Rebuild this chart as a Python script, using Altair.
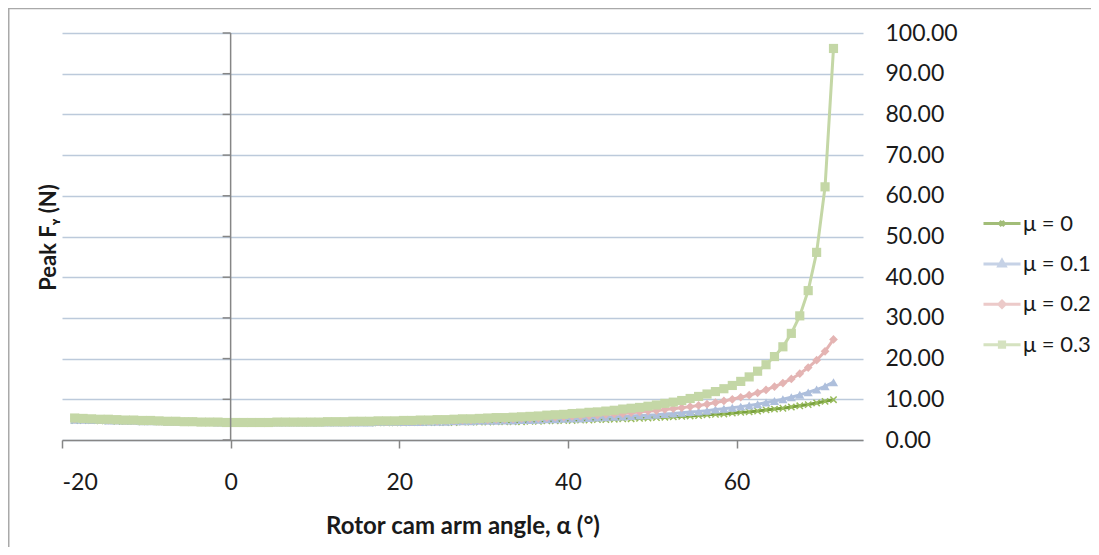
import pandas as pd
import altair as alt

# Rotor cam arm angle (degrees)
alpha = [-18.5 + i for i in range(91)]

# Peak Fy (N), one list per friction coefficient
mu0 = [4.8,4.8,4.8,4.7,4.7,4.6,4.6,4.6,4.5,4.5,
       4.5,4.5,4.4,4.4,4.4,4.4,4.3,4.3,4.3,4.3,
       4.3,4.3,4.3,4.2,4.2,4.2,4.2,4.2,4.2,4.2,
       4.2,4.2,4.2,4.2,4.2,4.2,4.2,4.2,4.2,4.2,
       4.3,4.3,4.3,4.3,4.3,4.3,4.4,4.4,4.4,4.4,
       4.5,4.5,4.5,4.5,4.6,4.6,4.7,4.7,4.8,4.8,
       4.9,4.9,5.0,5.0,5.1,5.2,5.2,5.3,5.4,5.5,
       5.6,5.7,5.8,5.9,6.0,6.2,6.3,6.4,6.6,6.8,
       6.9,7.1,7.4,7.6,7.8,8.1,8.4,8.7,9.1,9.5,
       9.9]
mu1 = [5.0,5.0,4.9,4.9,4.8,4.8,4.7,4.7,4.6,4.6,
       4.6,4.5,4.5,4.5,4.4,4.4,4.4,4.3,4.3,4.3,
       4.3,4.3,4.3,4.3,4.3,4.3,4.3,4.3,4.3,4.3,
       4.3,4.3,4.3,4.3,4.3,4.3,4.4,4.4,4.4,4.4,
       4.4,4.4,4.5,4.5,4.5,4.6,4.6,4.6,4.7,4.7,
       4.7,4.8,4.8,4.9,4.9,5.0,5.1,5.1,5.2,5.3,
       5.3,5.4,5.5,5.6,5.7,5.8,5.9,6.0,6.1,6.2,
       6.4,6.5,6.7,6.9,7.0,7.2,7.5,7.7,7.9,8.2,
       8.5,8.8,9.2,9.6,10.0,10.5,11.1,11.7,12.4,13.2,
       14.2]
mu2 = [5.2,5.1,5.1,5.0,4.9,4.9,4.8,4.8,4.7,4.7,
       4.6,4.6,4.5,4.5,4.5,4.4,4.4,4.3,4.3,4.3,
       4.3,4.3,4.3,4.3,4.3,4.3,4.3,4.3,4.4,4.4,
       4.4,4.4,4.4,4.4,4.5,4.5,4.5,4.5,4.6,4.6,
       4.6,4.6,4.7,4.7,4.8,4.8,4.9,4.9,5.0,5.0,
       5.1,5.1,5.2,5.3,5.3,5.4,5.5,5.6,5.7,5.8,
       5.9,6.0,6.1,6.3,6.4,6.5,6.7,6.9,7.1,7.2,
       7.5,7.7,7.9,8.2,8.5,8.8,9.2,9.6,10.0,10.5,
       11.0,11.6,12.3,13.1,14.0,15.0,16.3,17.8,19.6,21.8,
       24.7]
mu3 = [5.4,5.3,5.2,5.1,5.1,5.0,4.9,4.9,4.8,4.8,
       4.7,4.6,4.6,4.5,4.5,4.4,4.4,4.4,4.3,4.3,
       4.3,4.3,4.3,4.3,4.4,4.4,4.4,4.4,4.4,4.4,
       4.5,4.5,4.5,4.6,4.6,4.6,4.7,4.7,4.7,4.8,
       4.8,4.9,4.9,5.0,5.0,5.1,5.2,5.2,5.3,5.4,
       5.5,5.5,5.6,5.7,5.8,5.9,6.1,6.2,6.3,6.5,
       6.6,6.8,6.9,7.1,7.3,7.6,7.8,8.0,8.3,8.6,
       9.0,9.3,9.7,10.2,10.7,11.3,11.9,12.6,13.4,14.4,
       15.5,16.9,18.5,20.5,22.9,26.2,30.5,36.7,46.1,62.2,
       96.2]

series_names = ["μ = 0", "μ = 0.1", "μ = 0.2", "μ = 0.3"]
line_colors = ["#7ba23f", "#aebfdc", "#e4b4b3", "#c4d7a6"]
marker_colors = ["#98bb5c", "#aebfdc", "#e4b4b3", "#c4d7a6"]
marker_shapes = ["M-1,-1L1,1M-1,1L1,-1", "triangle-up", "diamond", "square"]
marker_sizes = [40, 85, 76, 84]
legend_paths = [
    "M-1,0H1M-0.13,-0.13L0.13,0.13M-0.13,0.13L0.13,-0.13",
    "M-1,0H1M0,-0.19L0.17,0.11H-0.17Z",
    "M-1,0H1M0,-0.17L0.17,0L0,0.17L-0.17,0Z",
    "M-1,0H1M-0.14,-0.14H0.14V0.14H-0.14Z",
]
x_ticks = [-20, 0, 20, 40, 60]
y_ticks = list(range(0, 101, 10))

rows = []
for name, ys in zip(series_names, [mu0, mu1, mu2, mu3]):
    for x, y in zip(alpha, ys):
        rows.append({"alpha": x, "F": y, "series": name})
df = pd.DataFrame(rows)
# value axis crosses the category axis at alpha = 0; its ticks point left
vaxis_df = pd.DataFrame({"alpha": [0], "F": [0], "F2": [100]})
ytick_df = pd.DataFrame({"F": y_ticks, "alpha": [0] * len(y_ticks), "alpha2": [-0.95] * len(y_ticks)})

FONT = "Lato"
TXT = "#1a1a1a"
AX = "#868686"
x_scale = alt.Scale(domain=[-20, 75], nice=False, zero=False)
y_scale = alt.Scale(domain=[0, 100], nice=False)

x_axis = alt.Axis(
    title="Rotor cam arm angle, α (°)", values=x_ticks, grid=False,
    labelExpr="datum.value < 0 ? '-' + abs(datum.value) : '' + datum.value",
    domainColor=AX, domainWidth=1.5, tickColor=AX, tickWidth=1.5, tickSize=8,
    labelPadding=23, labelFont=FONT, labelFontSize=23, labelColor=TXT,
    titleFont=FONT, titleFontSize=24, titleFontWeight="bold", titleColor=TXT,
    titleY=74, titleBaseline="top", zindex=1,
)
y_axis = alt.Axis(
    orient="right", domain=False, ticks=False, grid=True, values=y_ticks,
    gridColor="#bccadb", gridWidth=1.5, format=".2f",
    labelFont=FONT, labelFontSize=23, labelColor=TXT, labelPadding=22,
    labelAlign="left", labelBaseline="middle",
    title="Peak Fᵧ (N)", titleFont=FONT, titleFontSize=22, titleFontWeight="bold",
    titleColor=TXT, titleX=-815, titleY=204, titleAlign="center",
    titleBaseline="middle", titleAngle=270,
)


def X(field="alpha"):
    return alt.X(field + ":Q", scale=x_scale, axis=x_axis)


def Y(field="F"):
    return alt.Y(field + ":Q", scale=y_scale, axis=y_axis)


layers = []
for i, name in enumerate(series_names):
    base = alt.Chart(df).transform_filter(alt.datum.series == name)
    line = base.mark_line(strokeWidth=3, color=line_colors[i]).encode(x=X(), y=Y())
    if i == 0:
        pts = base.mark_point(shape=marker_shapes[i], filled=False, size=marker_sizes[i],
                              stroke=marker_colors[i], strokeWidth=1.5, opacity=1)
    else:
        pts = base.mark_point(shape=marker_shapes[i], filled=True, size=marker_sizes[i],
                              color=marker_colors[i], opacity=1)
    layers += [line, pts.encode(x=X(), y=Y())]

vline = alt.Chart(vaxis_df).mark_rule(color=AX, strokeWidth=1.5).encode(
    x=X(), y=Y(), y2=alt.Y2("F2:Q")
)
vticks = alt.Chart(ytick_df).mark_rule(color=AX, strokeWidth=1.5).encode(
    x=X(), x2=alt.X2("alpha2:Q"), y=Y()
)

leg = alt.Legend(
    title=None, orient="none", legendX=920, legendY=170.5, padding=0,
    symbolSize=1369, symbolStrokeWidth=3, labelFont=FONT, labelFontSize=22,
    labelColor=TXT, labelOffset=1, rowPadding=9.4,
)
legend_layer = alt.Chart(df).transform_filter("false").mark_point(filled=True, size=1369).encode(
    x=X(), y=Y(),
    fill=alt.Fill("series:N", scale=alt.Scale(domain=series_names, range=line_colors), legend=leg),
    stroke=alt.Stroke("series:N", scale=alt.Scale(domain=series_names, range=line_colors), legend=leg),
    shape=alt.Shape("series:N", scale=alt.Scale(domain=series_names, range=legend_paths), legend=leg),
)

border = alt.Chart(pd.DataFrame({"k": [0]})).mark_rect(
    fillOpacity=0, stroke="#a9a9a9", strokeWidth=1.5
).encode(x=alt.value(-53.25), x2=alt.value(1300), y=alt.value(-24.5), y2=alt.value(800))

chart = alt.layer(*layers, vline, vticks, legend_layer, border).properties(
    width=801, height=407,
    autosize=alt.AutoSizeParams(type="none"),
    padding={"left": 54, "top": 25, "right": 228, "bottom": 107},
).configure_view(stroke=None)

chart.save("out.html", embed_options={"renderer": "svg", "actions": False})
